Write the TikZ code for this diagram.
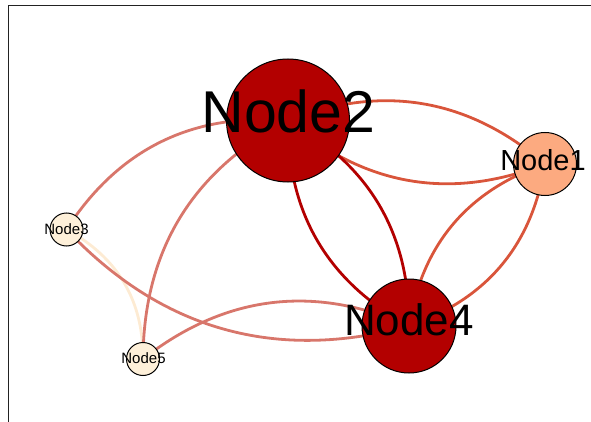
\documentclass[tikz,border=0pt]{standalone}
\usepackage{fontspec}
\setmainfont{Liberation Sans}
\pgfdeclarelayer{background}
\pgfsetlayers{background,main}
\definecolor{nodedark}{HTML}{B30000}
\definecolor{nodemid}{HTML}{FCAA80}
\definecolor{nodelight}{HTML}{FEF0D9}
\definecolor{edgedark}{HTML}{B30000}
\definecolor{edgeorange}{HTML}{D9553B}
\definecolor{edgesoft}{HTML}{D8766B}
\definecolor{edgepale}{HTML}{FDEBD3}
\definecolor{spine}{HTML}{222222}
\begin{document}
\begin{tikzpicture}[x=1pt,y=-1pt,
  vertex/.style={circle,draw=black,line width=1pt,inner sep=0pt,outer sep=0pt},
  lab/.style={anchor=base,inner sep=0pt,outer sep=0pt,text=black},
  link/.style={line width=2.8pt},
  arcl/.style={bend left=30.96,looseness=0.993},
  arcr/.style={bend right=30.96,looseness=0.993}]
\useasboundingbox (0,0) rectangle (591,422);
% frame
\coordinate (fb) at (8,422);
\coordinate (fc) at (8,6);
\coordinate (fr) at (591,6);
\draw[spine,line width=1pt] (fb) -- (fc) -- (fr);
% nodes
\node[vertex,fill=nodedark,minimum size=123pt] (n2) at (288,120.5) {};
\node[vertex,fill=nodemid,minimum size=63pt] (n1) at (545,164) {};
\node[vertex,fill=nodedark,minimum size=94pt] (n4) at (409,326) {};
\node[vertex,fill=nodelight,minimum size=33pt] (n3) at (66.5,229.5) {};
\node[vertex,fill=nodelight,minimum size=33pt] (n5) at (143,359) {};
% labels
\node[lab,font=\fontsize{59}{59}\selectfont] (l2) at (288.4,133) {Node2};
\node[lab,font=\fontsize{29}{29}\selectfont] (l1) at (543,171) {Node1};
\node[lab,font=\fontsize{44}{44}\selectfont] (l4) at (409,335) {Node4};
\node[lab,font=\fontsize{15}{15}\selectfont] (l3) at (66.5,234) {Node3};
\node[lab,font=\fontsize{15}{15}\selectfont] (l5) at (143.5,363) {Node5};
% edges (centre to centre, hidden under the discs)
\begin{pgfonlayer}{background}
\draw[link,edgepale] (n3.center) to[arcl] (n5.center);
\draw[link,edgesoft] (n2.center) to[arcr] (n3.center);
\draw[link,edgesoft] (n2.center) to[arcr] (n5.center);
\draw[link,edgesoft] (n3.center) to[arcr] (n4.center);
\draw[link,edgesoft] (n5.center) to[arcl] (n4.center);
\draw[link,edgeorange] (n2.center) to[arcl] (n1.center);
\draw[link,edgeorange] (n1.center) to[arcl] (n2.center);
\draw[link,edgeorange] (n1.center) to[arcl] (n4.center);
\draw[link,edgeorange] (n4.center) to[arcl] (n1.center);
\draw[link,edgedark] (n2.center) to[arcl] (n4.center);
\draw[link,edgedark] (n4.center) to[arcl] (n2.center);
\end{pgfonlayer}
\end{tikzpicture}
\end{document}
